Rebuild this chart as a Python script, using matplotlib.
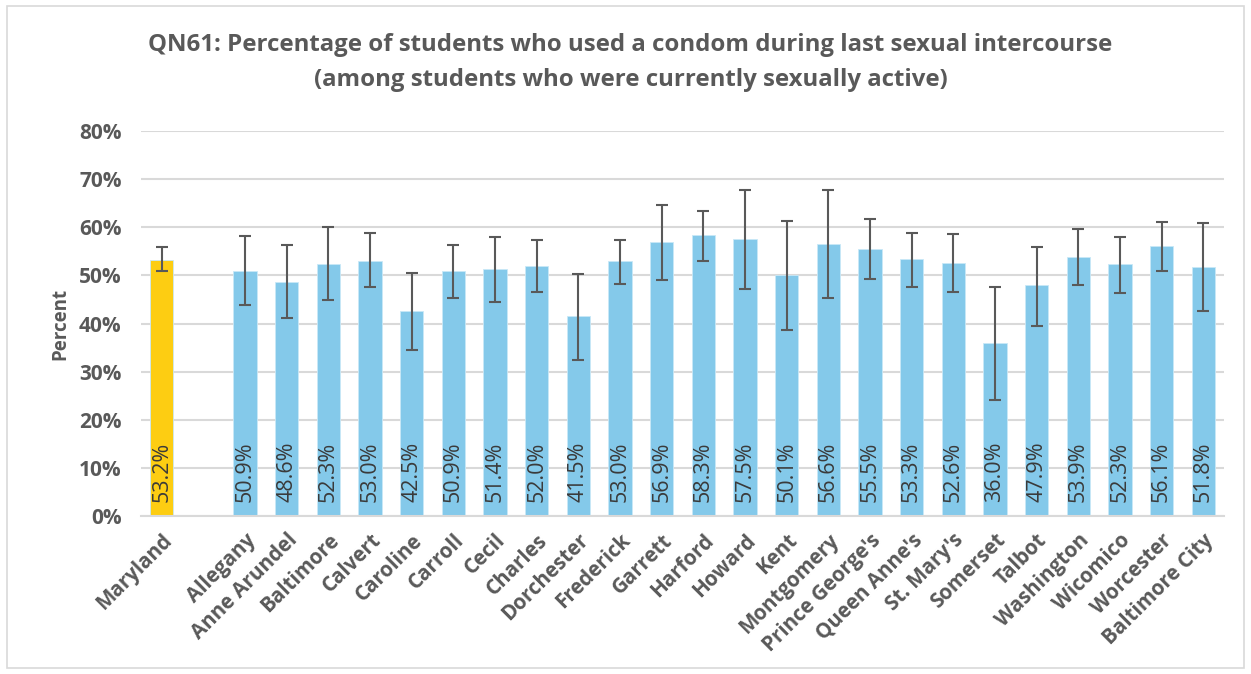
import numpy as np
import matplotlib
matplotlib.use("Agg")
from matplotlib import pyplot as plt
from matplotlib.patches import Rectangle

# 数据
counties = ["Maryland", "", "Allegany", "Anne Arundel", "Baltimore", "Calvert", "Caroline",
            "Carroll", "Cecil", "Charles", "Dorchester", "Frederick", "Garrett", "Harford",
            "Howard", "Kent", "Montgomery", "Prince George's", "Queen Anne's", "St. Mary's",
            "Somerset", "Talbot", "Washington", "Wicomico", "Worcester", "Baltimore City"]
pct = [53.2, np.nan, 50.9, 48.6, 52.3, 53.0, 42.5, 50.9, 51.4, 52.0, 41.5, 53.0, 56.9, 58.3,
       57.5, 50.1, 56.6, 55.5, 53.3, 52.6, 36.0, 47.9, 53.9, 52.3, 56.1, 51.8]
ci_low = [50.9, np.nan, 43.8, 41.1, 44.8, 47.5, 34.5, 45.2, 44.5, 46.6, 32.5, 48.3, 49.0, 53.0,
          47.2, 38.7, 45.2, 49.2, 47.5, 46.5, 24.2, 39.5, 47.9, 46.4, 51.0, 42.5]
ci_high = [55.8, np.nan, 58.2, 56.3, 60.0, 58.8, 50.4, 56.3, 58.0, 57.3, 50.3, 57.4, 64.6, 63.4,
           67.7, 61.2, 67.7, 61.8, 58.8, 58.5, 47.6, 56.0, 59.7, 58.0, 61.0, 60.9]
yticks = [0, 10, 20, 30, 40, 50, 60, 70, 80]

gray = "#595959"
plt.rcParams['font.family'] = ['Open Sans', 'DejaVu Sans']

fig = plt.figure(figsize=(12.51, 6.74), dpi=100)
# 图表外框
fig.patches.append(Rectangle((7 / 1251, 6 / 674), 1237 / 1251, 662 / 674, transform=fig.transFigure,
                             fill=False, edgecolor="#D9D9D9", linewidth=1.2))

ax = fig.add_axes([141 / 1251, 1 - 516 / 674, 1083 / 1251, 385 / 674])

x = np.arange(len(counties))
vals = np.array(pct)
colors = ["#FDCD12"] + ["#84C9EA"] * (len(counties) - 1)
ax.bar(x, np.nan_to_num(vals), width=0.56, color=colors, edgecolor="#C9E8F7", linewidth=0.6, zorder=2)

lo = vals - np.array(ci_low)
hi = np.array(ci_high) - vals
ax.errorbar(x, vals, yerr=[lo, hi], fmt="none", ecolor=gray, elinewidth=1.5,
            capsize=4.5, capthick=1.5, zorder=3)

# 柱内数值
for xi, v in zip(x, vals):
    if np.isnan(v):
        continue
    ax.text(xi, 3.0, f"{v:.1f}%", rotation=90, ha="center", va="bottom",
            fontsize=15.5, color="#3A3A3A", fontweight="medium", zorder=4)

ax.set_xlim(-0.5, len(counties) - 0.5)
ax.set_ylim(0, 80)
ax.set_yticks(yticks)
ax.set_yticklabels([f"{t}%" for t in yticks], fontsize=15, fontweight="bold", color=gray)
ax.yaxis.grid(True, color="#D9D9D9", linewidth=1.5, zorder=0)
ax.set_axisbelow(True)
ax.tick_params(axis="y", length=0, pad=14)
ax.tick_params(axis="x", length=0, pad=10)
ax.set_xticks(x)
ax.set_xticklabels(counties, rotation=45, ha="right", rotation_mode="anchor",
                   fontsize=14.8, fontweight="bold", color=gray)
for s in ["top", "right", "left"]:
    ax.spines[s].set_visible(False)
ax.spines["bottom"].set_color("#D9D9D9")
ax.spines["bottom"].set_linewidth(1.5)

ax.set_ylabel("Percent", fontsize=13.5, fontweight="bold", color=gray, labelpad=6)

fig.text(0.504, 1 - 45 / 674, "QN61: Percentage of students who used a condom during last sexual intercourse",
         ha="center", va="center", fontsize=17.3, fontweight="bold", color=gray)
fig.text(0.504, 1 - 80 / 674, "(among students who were currently sexually active)",
         ha="center", va="center", fontsize=17.3, fontweight="bold", color=gray)

fig.savefig("out.png", dpi=100)
